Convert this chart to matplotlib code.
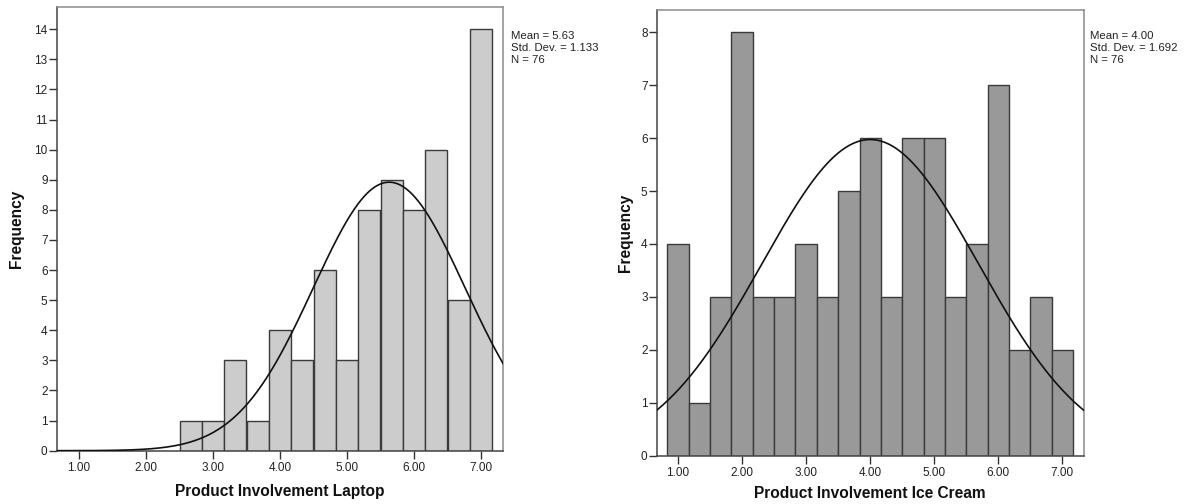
import numpy as np
import matplotlib
matplotlib.use("Agg")
import matplotlib.pyplot as plt

plt.rcParams['font.family'] = ['Liberation Sans', 'DejaVu Sans']

# Laptop histogram (bin centers in steps of 1/3)
laptop_centers = [2.667, 3.000, 3.333, 3.667, 4.000, 4.333, 4.667,
                  5.000, 5.333, 5.667, 6.000, 6.333, 6.667, 7.000]
laptop_counts = [1, 1, 3, 1, 4, 3, 6, 3, 8, 9, 8, 10, 5, 14]
laptop_stats = (5.63, 1.133, 76)

# Ice cream histogram
icecream_centers = [1.000, 1.333, 1.667, 2.000, 2.333, 2.667, 3.000,
                    3.333, 3.667, 4.000, 4.333, 4.667, 5.000, 5.333,
                    5.667, 6.000, 6.333, 6.667, 7.000]
icecream_counts = [4, 1, 3, 8, 3, 3, 4, 3, 5, 6, 3, 6, 6, 3, 4, 7, 2, 3, 2]
icecream_stats = (4.00, 1.692, 76)

bin_width = 1 / 3
x_ticks = [1, 2, 3, 4, 5, 6, 7]
x_tick_labels = ['1.00', '2.00', '3.00', '4.00', '5.00', '6.00', '7.00']

fig = plt.figure(figsize=(11.84, 5.04), dpi=100)
fig.patch.set_facecolor('white')

W, H = 1184, 504


def make_axes(x0, x1, top, bottom):
    return fig.add_axes([x0 / W, (H - bottom) / H, (x1 - x0) / W, (bottom - top) / H])


def draw_hist(ax, centers, counts, stats, color, ytop, xlabel, text_x, xlab_y, ylab_x):
    mean, sd, n = stats
    ax.bar(centers, counts, width=bin_width, color=color, edgecolor='#3a3a3a',
           linewidth=1.0, zorder=2)
    # fitted normal curve
    xs = np.linspace(0.5, 7.5, 400)
    ys = n * bin_width * np.exp(-0.5 * ((xs - mean) / sd) ** 2) / (sd * np.sqrt(2 * np.pi))
    ax.plot(xs, ys, color='#111111', linewidth=1.2, zorder=3)

    ax.set_xlim(0.667, 7.333)
    ax.set_ylim(0, ytop)
    ax.set_xticks(x_ticks)
    ax.set_xticklabels(x_tick_labels)
    ax.set_yticks(range(0, int(ytop) + 1))

    ax.tick_params(axis='both', direction='out', length=5.8, width=1.0,
                   color='#333333', labelcolor='#222222', labelsize=8.5)
    ax.tick_params(axis='y', pad=0.8)
    ax.tick_params(axis='x', pad=2.0)

    for side in ['left', 'bottom']:
        ax.spines[side].set_color('#444444')
        ax.spines[side].set_linewidth(1.1)
    for side in ['top', 'right']:
        ax.spines[side].set_color('#8a8a8a')
        ax.spines[side].set_linewidth(1.1)

    ax.set_xlabel(xlabel, fontsize=11.2, fontweight='bold', color='#111111', va='center')
    ax.xaxis.set_label_coords(0.5, xlab_y)
    ax.set_ylabel('Frequency', fontsize=11.2, fontweight='bold', color='#111111', va='center')
    ax.yaxis.set_label_coords(ylab_x, 0.5)

    fig.text(text_x / W, (H - 31) / H,
             'Mean = %.2f\nStd. Dev. = %.3f\nN = %d' % (mean, sd, n),
             fontsize=8.2, color='#222222', va='top', ha='left', linespacing=1.25)


ax1 = make_axes(56.7, 503.3, 7.3, 450.7)
draw_hist(ax1, laptop_centers, laptop_counts, laptop_stats, '#cccccc', 14.73,
          'Product Involvement Laptop', 511, -0.0925, -0.089)

ax2 = make_axes(656.7, 1083.7, 10, 455.7)
draw_hist(ax2, icecream_centers, icecream_counts, icecream_stats, '#999999', 8.42,
          'Product Involvement Ice Cream', 1090.5, -0.0844, -0.072)

fig.savefig('out.png', dpi=100)
